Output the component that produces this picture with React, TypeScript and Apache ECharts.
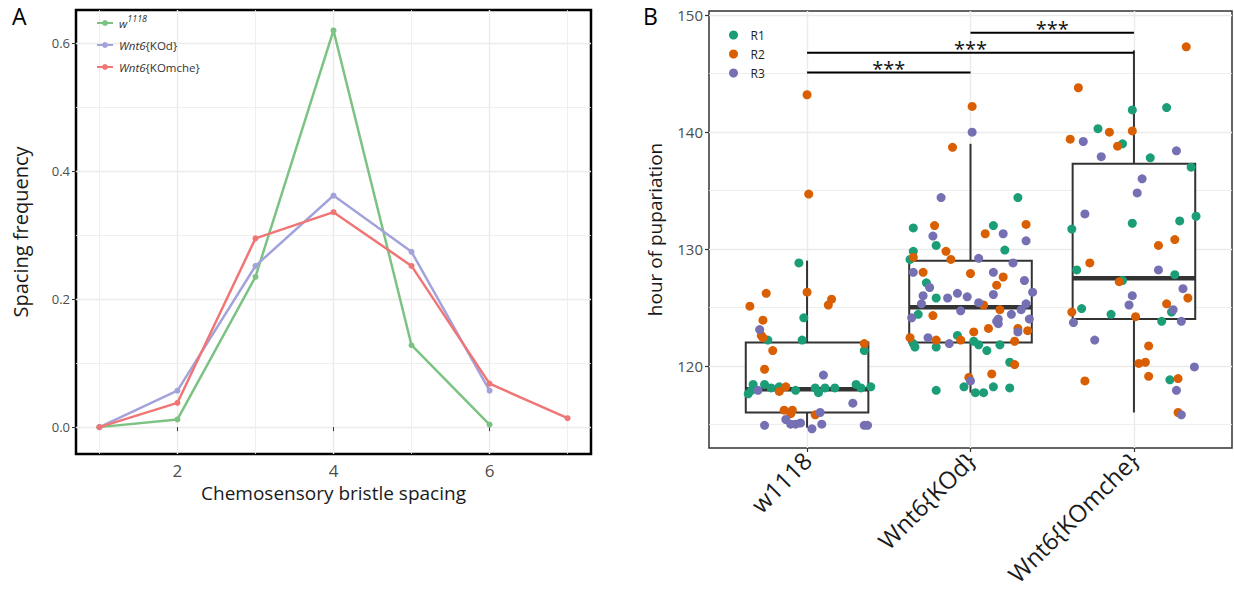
import React, { useEffect, useRef } from "react";
import * as echarts from "echarts";

// ---------- Panel A data ----------
const spacing = [1, 2, 3, 4, 5, 6, 7];
const w1118Freq = [0, 0.012, 0.235, 0.62, 0.128, 0.004];
const kodFreq = [0, 0.057, 0.252, 0.362, 0.274, 0.057];
const komcheFreq = [0, 0.038, 0.295, 0.336, 0.252, 0.068, 0.014];
const seriesNamesA = ["w1118", "Wnt6{KOd}", "Wnt6{KOmche}"];
const xTicksA = [2, 4, 6];
const yTicksA = [0, 0.2, 0.4, 0.6];

// ---------- Panel B data ----------
const categories = ["w1118", "Wnt6{KOd}", "Wnt6{KOmche}"];
const yTicksB = [120, 130, 140, 150];
// [lower whisker, Q1, median, Q3, upper whisker]
const boxStats = [
  [114.7, 116, 118, 122, 129],
  [117.7, 122, 125, 129, 139],
  [116, 124, 127.5, 137.3, 147],
];
// [from group, to group, height]
const sigBars = [
  [1, 2, 145.1],
  [1, 3, 146.8],
  [2, 3, 148.5],
];
const sigLabel = "***";

// jittered points: [offset from group centre, hours]
const w1118R1 = [
  [-0.05, 128.8], [-0.02, 124.1], [-0.24, 122.2], [-0.03, 122.2], [0.35, 121.3],
  [-0.36, 117.6], [-0.34, 117.9], [-0.33, 118.4], [-0.26, 118.4], [-0.22, 118.1],
  [-0.17, 118.2], [-0.07, 117.9], [0.05, 118.1], [0.07, 117.7], [0.11, 118.1],
  [0.17, 118.1], [0.3, 118.4], [0.33, 118.1], [0.39, 118.2],
];
const w1118R2 = [
  [0.0, 143.2], [0.01, 134.7], [-0.25, 126.2], [0.0, 126.3], [-0.35, 125.1],
  [0.13, 125.2], [0.15, 125.7], [-0.27, 123.9], [-0.28, 122.6], [-0.27, 122.4],
  [-0.21, 121.3], [0.35, 121.9], [-0.26, 119.7], [-0.17, 117.8], [-0.13, 118.2],
  [-0.14, 116.2], [-0.1, 115.9], [-0.09, 116.2], [0.05, 115.8],
];
const w1118R3 = [
  [-0.29, 123.1], [0.1, 119.2], [-0.3, 117.9], [0.28, 116.8], [0.08, 116.0],
  [-0.26, 114.9], [-0.13, 115.4], [-0.1, 115.0], [-0.07, 115.0], [-0.04, 115.1],
  [0.03, 114.6], [0.09, 115.0], [0.35, 114.9], [0.37, 114.9],
];
const kodR1 = [
  [0.29, 134.4], [-0.35, 131.8], [-0.21, 130.3], [-0.35, 129.8], [0.14, 132.0],
  [0.21, 129.9], [-0.37, 129.1], [-0.27, 127.1], [-0.21, 125.8], [-0.32, 124.4],
  [-0.08, 122.6], [-0.35, 121.9], [-0.34, 121.6], [-0.21, 121.6], [0.02, 122.1],
  [0.05, 121.8], [0.1, 121.3], [0.18, 121.8], [0.24, 120.3], [-0.21, 117.9],
  [-0.04, 118.2], [0.03, 117.7], [0.08, 117.7], [0.14, 118.2], [0.24, 118.1],
];
const kodR2 = [
  [0.01, 142.2], [-0.11, 138.7], [-0.22, 132.0], [-0.15, 129.8], [0.09, 131.3],
  [0.34, 132.1], [-0.35, 129.3], [-0.12, 129.1], [-0.29, 128.0], [0.0, 127.9],
  [0.2, 127.6], [0.16, 126.9], [0.08, 125.2], [0.18, 124.8], [-0.23, 124.3],
  [0.11, 123.2], [0.29, 123.2], [0.35, 123.0], [0.02, 122.9], [-0.37, 122.4],
  [-0.21, 122.2], [-0.06, 122.2], [0.27, 122.1], [0.27, 120.1], [0.13, 119.3],
  [-0.01, 119.0],
];
const kodR3 = [
  [0.01, 140.0], [-0.18, 134.4], [-0.23, 131.1], [0.2, 131.3], [0.34, 130.7],
  [0.05, 129.2], [0.26, 128.8], [-0.35, 128.0], [0.14, 128.0], [0.33, 127.3],
  [-0.25, 126.7], [-0.29, 126.0], [-0.14, 125.8], [-0.08, 126.2], [-0.02, 125.9],
  [0.14, 126.1], [0.38, 126.3], [-0.3, 125.3], [0.05, 125.4], [0.34, 125.3],
  [-0.06, 124.7], [0.31, 124.8], [0.25, 124.4], [-0.36, 124.1], [0.17, 124.0],
  [0.16, 123.8], [0.17, 123.6], [0.36, 124.0], [0.29, 122.9], [-0.26, 122.4],
  [-0.13, 121.9], [0.0, 118.7],
];
const komcheR1 = [
  [-0.01, 141.9], [0.2, 142.1], [-0.22, 140.3], [-0.07, 139.0], [0.1, 137.8],
  [0.35, 137.0], [-0.38, 131.7], [-0.01, 132.2], [0.28, 132.4], [0.38, 132.8],
  [-0.35, 128.2], [0.25, 127.8], [-0.07, 127.3], [0.23, 124.6], [-0.32, 124.9],
  [-0.14, 124.4], [0.17, 123.8], [0.22, 118.8],
];
const komcheR2 = [
  [0.32, 147.3], [-0.34, 143.8], [-0.15, 140.0], [-0.01, 140.1], [-0.39, 139.4],
  [-0.1, 138.8], [0.25, 130.8], [0.15, 130.3], [-0.27, 128.8], [-0.09, 127.2],
  [0.33, 125.8], [0.2, 125.3], [-0.38, 124.6], [0.01, 124.2], [0.09, 121.7],
  [0.03, 120.2], [0.07, 120.3], [-0.3, 118.7], [0.09, 119.1], [0.27, 118.9],
  [0.27, 116.0],
];
const komcheR3 = [
  [-0.31, 139.2], [-0.2, 137.9], [0.26, 138.4], [0.05, 136.0], [0.02, 134.8],
  [-0.3, 133.0], [0.15, 128.2], [0.3, 126.6], [-0.01, 126.0], [-0.03, 125.2],
  [0.24, 124.8], [-0.37, 123.7], [0.29, 123.8], [-0.24, 122.2], [0.37, 119.9],
  [0.26, 117.9], [0.29, 115.8],
];
const replicateNames = ["R1", "R2", "R3"];
const replicateGroups = [
  [w1118R1, kodR1, komcheR1],
  [w1118R2, kodR2, komcheR2],
  [w1118R3, kodR3, komcheR3],
];

const colorsA = ["#7cc383", "#a3a3dc", "#f07676"];
const colorsB = ["#1b9e77", "#d95f02", "#7570b3"];
const FONT = "Open Sans";
const GRIDC = "#ebebeb";

function gridMarkLine(vertical: number[], horizontal: number[], majorV: number[], majorH: number[]) {
  const data: any[] = [];
  vertical.forEach((v) =>
    data.push({ xAxis: v, lineStyle: { color: GRIDC, width: majorV.includes(v) ? 1.4 : 0.8, type: "solid" } })
  );
  horizontal.forEach((v) =>
    data.push({ yAxis: v, lineStyle: { color: GRIDC, width: majorH.includes(v) ? 1.4 : 0.8, type: "solid" } })
  );
  return { silent: true, z: 0, symbol: ["none", "none"], label: { show: false }, animation: false, data };
}

export default function App() {
  const ref = useRef<HTMLDivElement>(null);
  useEffect(() => {
    document.body.style.margin = "0";
    const chart = echarts.init(ref.current!, null, { renderer: "svg" });

    const lineData = [w1118Freq, kodFreq, komcheFreq];
    const lineSeries = lineData.map((arr, i) => ({
      name: seriesNamesA[i],
      type: "line",
      xAxisIndex: 0,
      yAxisIndex: 0,
      z: 3 + i,
      data: arr.map((v, j) => [spacing[j], v]),
      symbol: "circle",
      symbolSize: 6,
      showSymbol: true,
      lineStyle: { color: colorsA[i], width: 2.5 },
      itemStyle: { color: colorsA[i] },
    }));

    const scatterSeries = replicateNames.map((name, r) => ({
      name,
      type: "scatter",
      xAxisIndex: 1,
      yAxisIndex: 1,
      z: 4,
      symbol: "circle",
      symbolSize: 9,
      itemStyle: { color: colorsB[r], opacity: 1 },
      data: replicateGroups[r].flatMap((grp, g) => grp.map(([o, v]) => [g + 1 + o, v])),
    }));

    const option: any = {
      animation: false,
      backgroundColor: "#fff",
      textStyle: { fontFamily: FONT },
      grid: [
        { left: 76, top: 10, width: 515, height: 444, show: true, borderColor: "#000", borderWidth: 2.5, backgroundColor: "#fff" },
        { left: 709, top: 11, width: 523, height: 437, show: true, borderColor: "#333", borderWidth: 1.5, backgroundColor: "#fff" },
      ],
      xAxis: [
        {
          type: "value",
          gridIndex: 0,
          min: 0.7,
          max: 7.3,
          axisLine: { show: false },
          splitLine: { show: false },
          axisTick: { show: true, customValues: xTicksA, length: 4, lineStyle: { color: "#333", width: 1 } },
          axisLabel: { customValues: xTicksA, fontSize: 17, color: "#4d4d4d", margin: 8, fontFamily: FONT },
          name: "Chemosensory bristle spacing",
          nameLocation: "middle",
          nameGap: 29,
          nameTextStyle: { fontSize: 19, color: "#1a1a1a", fontFamily: FONT },
        },
        {
          type: "value",
          gridIndex: 1,
          min: 0.4,
          max: 3.6,
          axisLine: { show: false },
          splitLine: { show: false },
          axisTick: { show: true, customValues: [1, 2, 3], length: 4, lineStyle: { color: "#333", width: 1.2 } },
          axisLabel: {
            customValues: [1, 2, 3],
            formatter: (v: number) => categories[Math.round(v) - 1],
            rotate: 45,
            fontSize: 24,
            color: "#1a1a1a",
            margin: 8,
            fontFamily: FONT,
          },
        },
      ],
      yAxis: [
        {
          type: "value",
          gridIndex: 0,
          min: -0.042,
          max: 0.652,
          axisLine: { show: false },
          splitLine: { show: false },
          axisTick: { show: true, customValues: yTicksA, length: 4, lineStyle: { color: "#333", width: 1 } },
          axisLabel: { customValues: yTicksA, formatter: (v: number) => v.toFixed(1), fontSize: 13, color: "#4d4d4d", margin: 6, fontFamily: FONT },
          name: "Spacing frequency",
          nameLocation: "middle",
          nameGap: 46,
          nameTextStyle: { fontSize: 20, color: "#1a1a1a", fontFamily: FONT },
        },
        {
          type: "value",
          gridIndex: 1,
          min: 112.96,
          max: 150.37,
          axisLine: { show: false },
          splitLine: { show: false },
          axisTick: { show: true, customValues: yTicksB, length: 4, lineStyle: { color: "#333", width: 1.2 } },
          axisLabel: { customValues: yTicksB, fontSize: 15, color: "#4d4d4d", margin: 6, fontFamily: FONT },
          name: "hour of pupariation",
          nameLocation: "middle",
          nameGap: 45,
          nameTextStyle: { fontSize: 19, color: "#1a1a1a", fontFamily: FONT },
        },
      ],
      legend: [
        {
          data: seriesNamesA,
          orient: "vertical",
          left: 92,
          top: 9,
          itemWidth: 16,
          itemHeight: 10,
          itemGap: 10,
          icon: "path://M0,4 L16,4 L16,6 L0,6 Z M8,2 A3,3 0 1 1 7.99,2 Z",
          textStyle: {
            fontSize: 11.5,
            color: "#333",
            fontFamily: FONT,
            padding: [0, 0, 0, 1],
            rich: {
              i: { fontStyle: "italic", fontSize: 11.5, color: "#333", fontFamily: FONT },
              s: { fontStyle: "italic", fontSize: 9, color: "#333", fontFamily: FONT, padding: [0, 0, 9, 0] },
            },
          },
          formatter: (name: string) => {
            if (name === "w1118") return "{i|w}{s|1118}";
            if (name.startsWith("Wnt6")) return "{i|Wnt6}" + name.slice(4);
            return name;
          },
        },
        {
          data: replicateNames,
          orient: "vertical",
          left: 724,
          top: 22,
          itemWidth: 18,
          itemHeight: 9,
          itemGap: 3,
          icon: "circle",
          textStyle: { fontSize: 12, color: "#222", fontFamily: FONT, padding: [0, 0, 0, 3], lineHeight: 16 },
        },
      ],
      graphic: [
        { type: "text", left: 12, top: 4, style: { text: "A", fontSize: 23, fill: "#000", fontFamily: FONT } },
        { type: "text", left: 643, top: 4, style: { text: "B", fontSize: 23, fill: "#000", fontFamily: FONT } },
      ],
      series: [
        {
          type: "scatter",
          xAxisIndex: 0,
          yAxisIndex: 0,
          data: [],
          z: 1,
          markLine: gridMarkLine([1, 2, 3, 4, 5, 6, 7], [0, 0.1, 0.2, 0.3, 0.4, 0.5, 0.6], [2, 4, 6], [0, 0.2, 0.4, 0.6]),
        },
        ...lineSeries,
        {
          type: "scatter",
          xAxisIndex: 1,
          yAxisIndex: 1,
          data: [],
          z: 1,
          markLine: gridMarkLine([1, 2, 3], [115, 120, 125, 130, 135, 140, 145, 150], [1, 2, 3], [120, 130, 140, 150]),
        },
        {
          type: "custom",
          xAxisIndex: 1,
          yAxisIndex: 1,
          z: 2,
          dimensions: ["x", "lo", "q1", "med", "q3", "hi"],
          encode: { x: 0, y: [1, 2, 3, 4, 5] },
          data: boxStats.map((s, i) => [i + 1, ...s]),
          renderItem: (params: any, api: any) => {
            const x = api.value(0);
            const pLo = api.coord([x, api.value(1)]);
            const pQ1 = api.coord([x, api.value(2)]);
            const pMed = api.coord([x, api.value(3)]);
            const pQ3 = api.coord([x, api.value(4)]);
            const pHi = api.coord([x, api.value(5)]);
            const hw = api.size([0.375, 0])[0];
            return {
              type: "group",
              children: [
                { type: "line", shape: { x1: pLo[0], y1: pLo[1], x2: pQ1[0], y2: pQ1[1] }, style: { stroke: "#333", lineWidth: 2 } },
                { type: "line", shape: { x1: pQ3[0], y1: pQ3[1], x2: pHi[0], y2: pHi[1] }, style: { stroke: "#333", lineWidth: 2 } },
                { type: "rect", shape: { x: pQ3[0] - hw, y: pQ3[1], width: 2 * hw, height: pQ1[1] - pQ3[1] }, style: { fill: "#fff", stroke: "#333", lineWidth: 2 } },
                { type: "line", shape: { x1: pMed[0] - hw, y1: pMed[1], x2: pMed[0] + hw, y2: pMed[1] }, style: { stroke: "#333", lineWidth: 4.5 } },
              ],
            };
          },
        },
        ...scatterSeries,
        {
          type: "custom",
          xAxisIndex: 1,
          yAxisIndex: 1,
          z: 5,
          dimensions: ["x1", "x2", "y"],
          encode: { x: [0, 1], y: 2 },
          data: sigBars,
          renderItem: (params: any, api: any) => {
            const p1 = api.coord([api.value(0), api.value(2)]);
            const p2 = api.coord([api.value(1), api.value(2)]);
            return {
              type: "group",
              children: [
                { type: "line", shape: { x1: p1[0], y1: p1[1], x2: p2[0], y2: p2[1] }, style: { stroke: "#000", lineWidth: 2 } },
                {
                  type: "text",
                  x: (p1[0] + p2[0]) / 2,
                  y: p1[1] - 4,
                  style: { text: sigLabel, fontSize: 20, fill: "#111", align: "center", verticalAlign: "middle", fontFamily: FONT },
                },
              ],
            };
          },
        },
      ],
    };
    chart.setOption(option);
    return () => chart.dispose();
  }, []);
  return <div ref={ref} style={{ width: 1234, height: 589 }} />;
}
